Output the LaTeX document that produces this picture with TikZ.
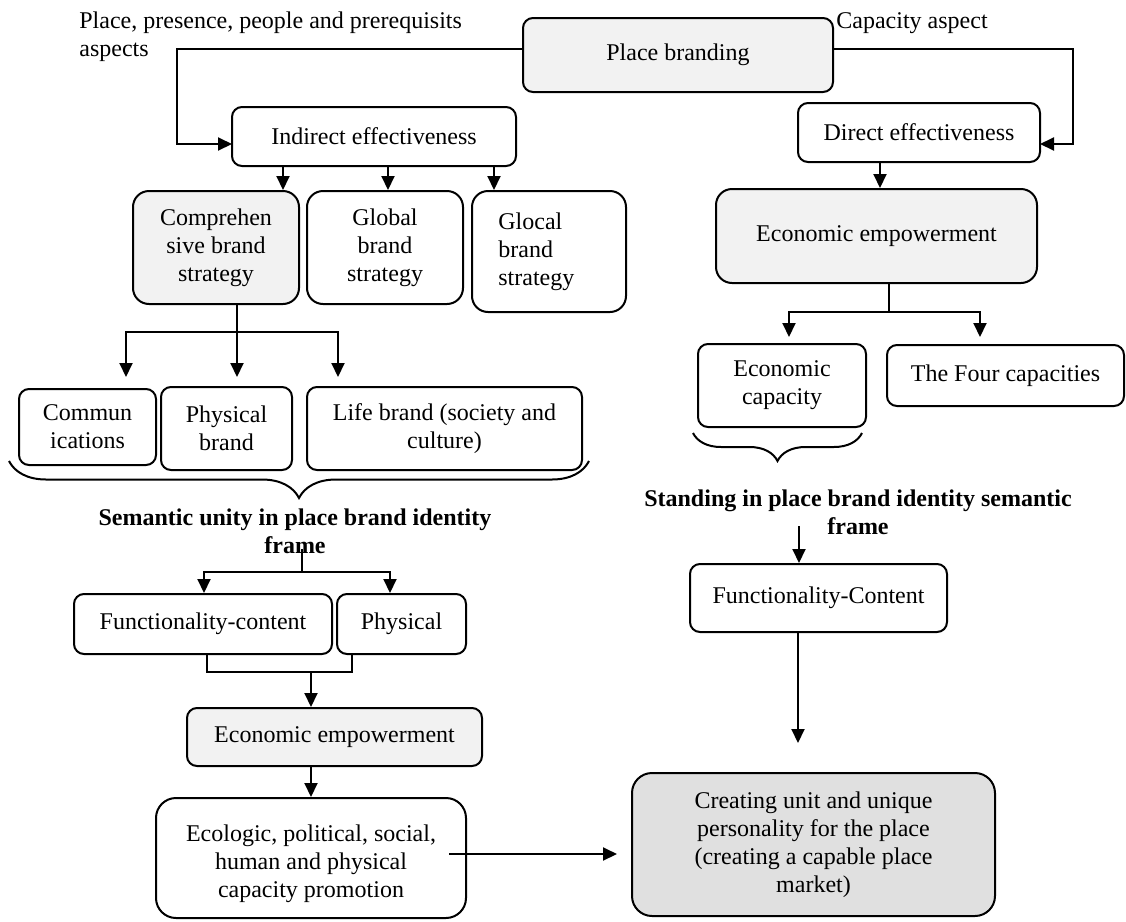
\documentclass[tikz,border=0pt]{standalone}
\usepackage{fontspec}
\setmainfont{Liberation Serif}
\usetikzlibrary{arrows.meta,decorations.pathreplacing}

\definecolor{lightfill}{HTML}{F2F2F2}
\definecolor{midfill}{HTML}{E0E0E0}

\tikzset{
  box/.style={draw, line width=1pt, rounded corners=5pt, inner sep=0pt,
    align=center, font=\fontsize{12}{14}\selectfont},
  size/.style 2 args={minimum width=#1pt, minimum height=#2pt},
  bigr/.style={rounded corners=8pt},
  hugr/.style={rounded corners=10pt},
  shaded/.style={fill=lightfill},
  darkshaded/.style={fill=midfill},
  txt/.style={inner sep=0pt, font=\fontsize{12}{14}\selectfont},
  headline/.style={inner sep=0pt, align=center, font=\fontsize{12}{14}\selectfont\bfseries},
  conn/.style={line width=1pt},
  arr/.style={conn, -{Triangle[width=6.5pt,length=7pt]}},
  bracebar/.style={line width=1pt, decorate},
}

\begin{document}
\begin{tikzpicture}[x=0.5pt, y=-0.5pt]
\useasboundingbox (0,0) rectangle (1126,922);

% ---------- boxes ----------
\node[box, shaded, size={155}{37}] (pb) at (678,55) {Place branding};
\node[box, size={142}{29.5}] (ind) at (374,136.5) {Indirect effectiveness};
\node[box, size={121}{29.5}] (dir) at (919,132.5) {Direct effectiveness};

\node[box, bigr, shaded, size={83}{56.5}] (comp) at (216,247.5) {Comprehen\\sive brand\\strategy};
\node[box, bigr, size={78}{56.5}] (glob) at (385,247.5) {Global\\brand\\strategy};
\node[box, bigr, size={77}{60.5}] (gloc) at (549,251.5) {};
\node[txt, anchor=west, align=left] (gloct) at (498,252) {Glocal\\brand\\strategy};

\node[box, bigr, shaded, size={160.5}{47}] (eer) at (876.5,236) {Economic empowerment};

\node[box, size={68.5}{38}] (comm) at (87.5,427) {Commun\\ications};
\node[box, size={65.5}{41.5}] (phb) at (226.5,428.5) {Physical\\brand};
\node[box, size={137.5}{41.5}] (life) at (444.5,428.5) {Life brand (society and\\culture)};

\node[box, size={84}{41.5}] (ecap) at (782,385.5) {Economic\\capacity};
\node[box, size={118.5}{30.5}] (four) at (1005.5,375.5) {The Four capacities};

\node[box, size={129}{30}] (fcl) at (203,624) {Functionality-content};
\node[box, size={64.5}{30}] (phy) at (401.5,624) {Physical};
\node[box, shaded, size={147.5}{29}] (eeb) at (334.5,737) {Economic empowerment};
\node[box, hugr, size={155}{60}] (eco) at (311,858) {};
\node[txt, align=center] (ecot) at (311,864) {Ecologic, political, social,\\human and physical\\capacity promotion};

\node[box, size={128.5}{34}] (fcr) at (818.5,598) {Functionality-Content};
\node[box, hugr, darkshaded, size={181.5}{71.5}] (cre) at (813.5,844.5)
  {Creating unit and unique\\personality for the place\\(creating a capable place\\market)};

% ---------- free labels ----------
\node[txt, anchor=west, align=left] (lab1) at (79,36.5)
  {Place, presence, people and prerequisits\\aspects};
\node[txt, anchor=west] (lab2) at (836,23) {Capacity aspect};
\node[headline] (sem) at (295,531) {Semantic unity in place brand identity\\frame};
\node[headline] (stand) at (858,512) {Standing in place brand identity semantic\\frame};

% ---------- helper points ----------
\coordinate (pbL) at (523,49);
\coordinate (lk) at (177,144);
\coordinate (indL) at (232,144);
\coordinate (pbR) at (833,49);
\coordinate (rk) at (1073,144);
\coordinate (dirR) at (1040,144);
\coordinate (ia1) at (283,0);
\coordinate (ia2) at (388,0);
\coordinate (ia3) at (494,0);
\coordinate (da) at (880,0);
\coordinate (ej) at (889,312);
\coordinate (ea1) at (789,0);
\coordinate (ea2) at (980,0);
\coordinate (cj) at (237,332);
\coordinate (ca1) at (126,0);
\coordinate (ca3) at (338,0);
\coordinate (sstart) at (302,549);
\coordinate (sj) at (302,572);
\coordinate (sa1) at (204,0);
\coordinate (sa2) at (390,0);
\coordinate (bl) at (207,0);
\coordinate (bj) at (311,672);
\coordinate (br) at (352,0);
\coordinate (ha) at (449,854);
\coordinate (rs) at (799,526);
\coordinate (rd) at (798,0);
\coordinate (rend) at (798,743);

% ---------- connectors ----------
\draw[arr] (pbL) -| (lk) -- (indL);
\draw[arr] (pbR) -| (rk) -- (dirR);

\draw[arr] (ind.south -| ia1) -- (comp.north -| ia1);
\draw[arr] (ind.south -| ia2) -- (glob.north -| ia2);
\draw[arr] (ind.south -| ia3) -- (gloc.north -| ia3);

\draw[arr] (dir.south -| da) -- (eer.north -| da);
\draw[conn] (eer.south -| ej) -- (ej);
\draw[arr, shorten >=3pt] (ej) -| (ecap.north -| ea1);
\draw[arr, shorten >=3.5pt] (ej) -| (four.north -| ea2);

\draw[conn] (comp.south -| cj) -- (cj);
\draw[arr, shorten >=5.5pt] (cj) -| (comm.north -| ca1);
\draw[arr, shorten >=4.5pt] (cj) -- (phb.north -| cj);
\draw[arr, shorten >=4.5pt] (cj) -| (life.north -| ca3);

% braces
\draw[bracebar, decoration={brace, mirror, amplitude=18.5pt}] (9,461) -- (589,461);
\draw[bracebar, decoration={brace, mirror, amplitude=14pt}] (693,433) -- (862,433);

\draw[conn] (sstart) -- (sj);
\draw[arr] (sj) -| (fcl.north -| sa1);
\draw[arr] (sj) -| (phy.north -| sa2);

\draw[conn] (fcl.south -| bl) |- (bj) -| (phy.south -| br);
\draw[arr] (bj) -- (eeb.north -| bj);
\draw[arr] (eeb.south -| bj) -- (eco.north -| bj);

\draw[arr, shorten >=7pt] (ha) -- (cre.west |- ha);

\draw[arr] (rs) -- (fcr.north -| rs);
\draw[arr] (fcr.south -| rd) -- (rend);

\end{tikzpicture}
\end{document}
